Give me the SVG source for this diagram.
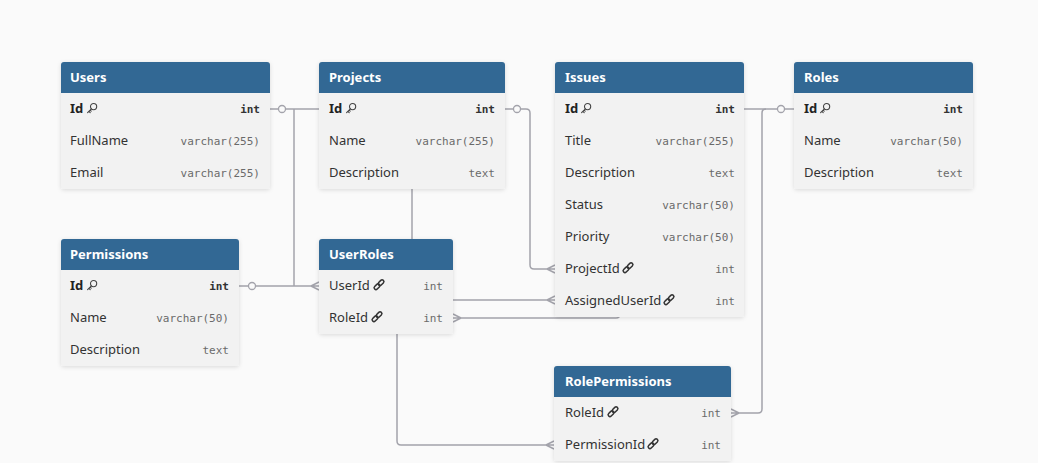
<svg xmlns="http://www.w3.org/2000/svg" width="1038" height="463" viewBox="0 0 1038 463">
<style>
.hd{fill:#326894}
.bd{fill:#f2f2f2}
.tt{fill:#ffffff;font-family:"Noto Sans","Open Sans",sans-serif;font-size:13px;font-weight:bold}
.fn{fill:#333333;font-family:"Noto Sans","Open Sans",sans-serif;font-size:13px}
.pk{fill:#222222;font-family:"Noto Sans","Open Sans",sans-serif;font-size:13px;font-weight:bold}
.ty{fill:#6a6a6a;font-family:"DejaVu Sans Mono","Liberation Mono",monospace;font-size:11px;text-anchor:end}
.pkt{fill:#333333;font-family:"DejaVu Sans Mono","Liberation Mono",monospace;font-size:11px;text-anchor:end;font-weight:bold}
.c{fill:none;stroke:#a3a3ab;stroke-width:1.5}
.o{fill:#fafafa;stroke:#a3a3ab;stroke-width:1.3}
.ic{fill:none;stroke:#444444;stroke-width:1.1;stroke-linecap:round}
.lk{fill:none;stroke:#333333;stroke-width:1.5}
</style>
<defs>
<filter id="sh" x="-10%" y="-10%" width="120%" height="130%">
<feDropShadow dx="0" dy="1" stdDeviation="2" flood-color="#000000" flood-opacity="0.13"/>
</filter>
<g id="key">
<circle cx="6.6" cy="3.6" r="3.1" class="ic"/>
<path d="M4.4,5.8 L0.6,9.6 M1.9,8.3 L3.2,9.6 M3.1,7.1 L4.2,8.2" class="ic"/>
</g>
<g id="link">
<rect x="5.2" y="-0.6" width="3.6" height="6.6" rx="1.8" transform="rotate(45 7 2.7)" class="lk"/>
<rect x="1.2" y="3.4" width="3.6" height="6.6" rx="1.8" transform="rotate(45 3 6.7)" class="lk"/>
</g>
</defs>
<rect x="0" y="0" width="1038" height="463" fill="#fafafa"/>

<g id="connectors">
<path class="c" d="M412,150 V280"/>
<path class="c" d="M270,109 H319"/>
<path class="c" d="M294,109 V286"/>
<path class="c" d="M239,286 H319 M311,286 L319,282 M311,286 L319,290"/>
<circle class="o" cx="282" cy="109" r="3.5"/>
<circle class="o" cx="252" cy="286" r="3.5"/>
<path class="c" d="M505,109 H526 Q530,109 530,113 V265 Q530,269 534,269 H555 M547,269 L555,265 M547,269 L555,273"/>
<circle class="o" cx="517" cy="109" r="3.5"/>
<path class="c" d="M744,109 H794"/>
<path class="c" d="M766,109 Q762,109 762,113 V409 Q762,413 758,413 H731 M739,413 L731,409 M739,413 L731,417"/>
<circle class="o" cx="781" cy="109" r="3.5"/>
<path class="c" d="M430,300 H555 M547,300 L555,296 M547,300 L555,304"/>
<path class="c" d="M453,318 H616 Q620,318 620,314 V300 M461,318 L453,314 M461,318 L453,322"/>
<path class="c" d="M397,300 V441 Q397,445 401,445 H554 M546,445 L554,441 M546,445 L554,449"/>
</g>

<g id="users">
<rect x="61" y="62" width="209" height="127" rx="3" class="bd" filter="url(#sh)"/>
<path d="M61,93 V65 Q61,62 64,62 H267 Q270,62 270,65 V93 Z" class="hd"/>
<text x="70" y="82" class="tt">Users</text>
<text x="70" y="113" class="pk">Id</text><use href="#key" x="87" y="103"/><text x="260" y="113" class="pkt">int</text>
<text x="70" y="145" class="fn">FullName</text><text x="260" y="145" class="ty">varchar(255)</text>
<text x="70" y="177" class="fn">Email</text><text x="260" y="177" class="ty">varchar(255)</text>
</g>

<g id="projects">
<rect x="319" y="62" width="186" height="127" rx="3" class="bd" filter="url(#sh)"/>
<path d="M319,93 V65 Q319,62 322,62 H502 Q505,62 505,65 V93 Z" class="hd"/>
<text x="329" y="82" class="tt">Projects</text>
<text x="329" y="113" class="pk">Id</text><use href="#key" x="346" y="103"/><text x="495" y="113" class="pkt">int</text>
<text x="329" y="145" class="fn">Name</text><text x="495" y="145" class="ty">varchar(255)</text>
<text x="329" y="177" class="fn">Description</text><text x="495" y="177" class="ty">text</text>
</g>

<g id="issues">
<rect x="555" y="62" width="189" height="255" rx="3" class="bd" filter="url(#sh)"/>
<path d="M555,93 V65 Q555,62 558,62 H741 Q744,62 744,65 V93 Z" class="hd"/>
<text x="565" y="82" class="tt">Issues</text>
<text x="565" y="113" class="pk">Id</text><use href="#key" x="581" y="103"/><text x="735" y="113" class="pkt">int</text>
<text x="565" y="145" class="fn">Title</text><text x="735" y="145" class="ty">varchar(255)</text>
<text x="565" y="177" class="fn">Description</text><text x="735" y="177" class="ty">text</text>
<text x="565" y="209" class="fn">Status</text><text x="735" y="209" class="ty">varchar(50)</text>
<text x="565" y="241" class="fn">Priority</text><text x="735" y="241" class="ty">varchar(50)</text>
<text x="565" y="273" class="fn">ProjectId</text><use href="#link" x="623" y="263"/><text x="735" y="273" class="ty">int</text>
<text x="565" y="305" class="fn">AssignedUserId</text><use href="#link" x="664" y="295"/><text x="735" y="305" class="ty">int</text>
</g>

<g id="roles">
<rect x="794" y="62" width="179" height="127" rx="3" class="bd" filter="url(#sh)"/>
<path d="M794,93 V65 Q794,62 797,62 H970 Q973,62 973,65 V93 Z" class="hd"/>
<text x="804" y="82" class="tt">Roles</text>
<text x="804" y="113" class="pk">Id</text><use href="#key" x="820" y="103"/><text x="963" y="113" class="pkt">int</text>
<text x="804" y="145" class="fn">Name</text><text x="963" y="145" class="ty">varchar(50)</text>
<text x="804" y="177" class="fn">Description</text><text x="963" y="177" class="ty">text</text>
</g>

<g id="permissions">
<rect x="61" y="239" width="178" height="127" rx="3" class="bd" filter="url(#sh)"/>
<path d="M61,270 V242 Q61,239 64,239 H236 Q239,239 239,242 V270 Z" class="hd"/>
<text x="70" y="259" class="tt">Permissions</text>
<text x="70" y="290" class="pk">Id</text><use href="#key" x="87" y="280"/><text x="229" y="290" class="pkt">int</text>
<text x="70" y="322" class="fn">Name</text><text x="229" y="322" class="ty">varchar(50)</text>
<text x="70" y="354" class="fn">Description</text><text x="229" y="354" class="ty">text</text>
</g>

<g id="userroles">
<rect x="319" y="239" width="134" height="95" rx="3" class="bd" filter="url(#sh)"/>
<path d="M319,270 V242 Q319,239 322,239 H450 Q453,239 453,242 V270 Z" class="hd"/>
<text x="329" y="259" class="tt">UserRoles</text>
<text x="329" y="290" class="fn">UserId</text><use href="#link" x="374" y="280"/><text x="443" y="290" class="ty">int</text>
<text x="329" y="322" class="fn">RoleId</text><use href="#link" x="372" y="312"/><text x="443" y="322" class="ty">int</text>
</g>

<g id="rolepermissions">
<rect x="554" y="366" width="177" height="95" rx="3" class="bd" filter="url(#sh)"/>
<path d="M554,397 V369 Q554,366 557,366 H728 Q731,366 731,369 V397 Z" class="hd"/>
<text x="565" y="386" class="tt">RolePermissions</text>
<text x="565" y="417" class="fn">RoleId</text><use href="#link" x="608" y="407"/><text x="721" y="417" class="ty">int</text>
<text x="565" y="449" class="fn">PermissionId</text><use href="#link" x="648" y="439"/><text x="721" y="449" class="ty">int</text>
</g>
</svg>
